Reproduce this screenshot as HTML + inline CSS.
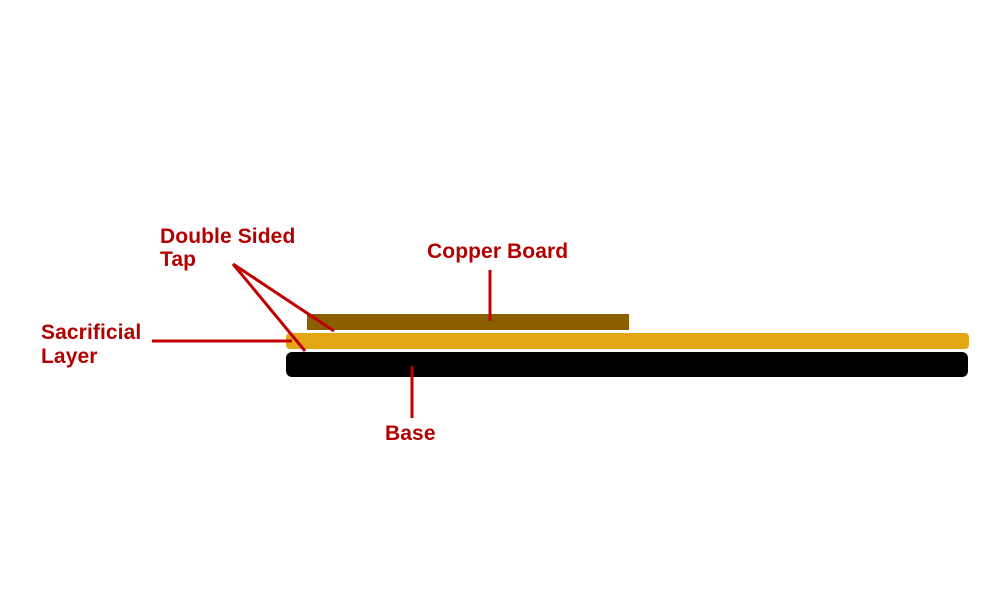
<!DOCTYPE html>
<html><head><style>
body{margin:0;background:#fff;}
svg text{font-family:"Liberation Sans",sans-serif;font-weight:bold;font-size:21px;fill:#b30000;letter-spacing:0.1px;}
</style></head><body>
<svg width="1000" height="600" xmlns="http://www.w3.org/2000/svg">
<rect x="307" y="314" width="322" height="16" fill="#8b5e00"/>
<rect x="286" y="333" width="683" height="16" rx="4" fill="#e5a614"/>
<rect x="286" y="352" width="682" height="25" rx="6" fill="#000"/>
<g stroke="#c00000" stroke-width="3" fill="none">
<line x1="490" y1="270" x2="490" y2="321"/>
<line x1="233" y1="264" x2="334" y2="331"/>
<line x1="233" y1="264" x2="305" y2="351"/>
<line x1="152" y1="341" x2="292" y2="341"/>
<line x1="412" y1="366" x2="412" y2="418"/>
</g>
<text x="427" y="258">Copper Board</text>
<text x="160" y="243">Double Sided</text>
<text x="160" y="266">Tap</text>
<text x="41" y="339">Sacrificial</text>
<text x="41" y="363">Layer</text>
<text x="385" y="440">Base</text>
</svg>
</body></html>
